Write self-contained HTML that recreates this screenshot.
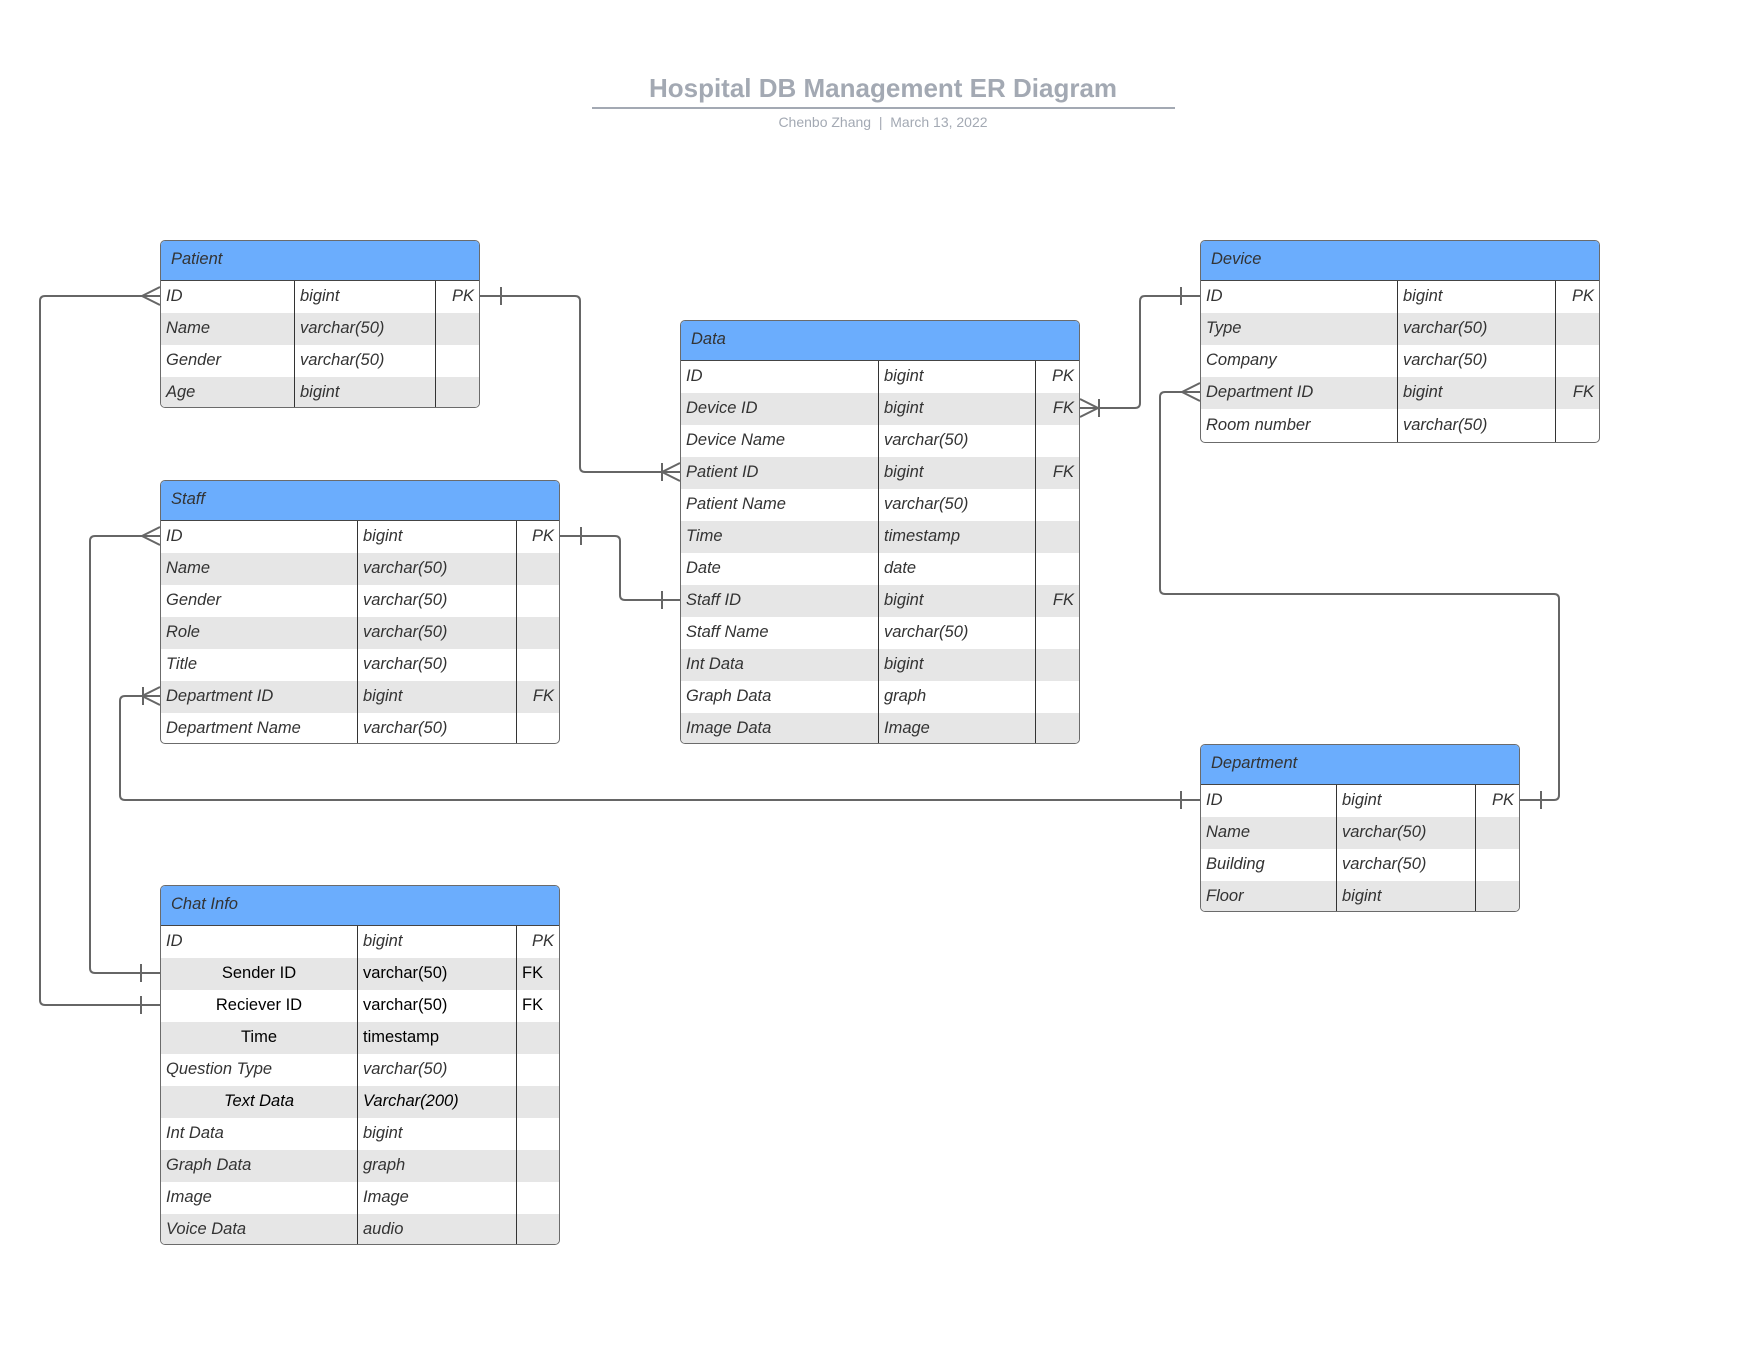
<!DOCTYPE html>
<html><head><meta charset="utf-8"><style>
body{margin:0;width:1759px;height:1359px;background:#fff;position:relative;overflow:hidden;font-family:"Liberation Sans",sans-serif}
.t{position:absolute;border:1.5px solid #6b6b6b;border-radius:5px;overflow:hidden;background:#fff;box-sizing:border-box;font-style:italic;font-size:16.5px;color:#333}
.h{height:40px;background:#6badfd;border-bottom:1.5px solid #444;box-sizing:border-box;padding-left:10px;line-height:36px}
.r{display:flex;height:32px;line-height:30px}
.r:nth-child(even){background:#e6e6e6}
.r div{box-sizing:border-box;padding-left:5px;white-space:nowrap;overflow:hidden}
.r div:not(:last-child){border-right:1.5px solid #333}
.r div:last-child{text-align:right;padding-right:5px}
.n{font-style:normal;color:#000}
.c{text-align:center;padding-left:0!important}
.l{text-align:left!important;padding-left:5px!important}
svg{position:absolute;left:0;top:0}
</style></head><body>
<div style="position:absolute;left:0;width:1766px;top:73px;text-align:center;font-weight:bold;font-size:26px;color:#a3a9b3">Hospital DB Management ER Diagram</div>
<div style="position:absolute;left:592px;width:583px;top:107px;height:2px;background:#a3a9b3"></div>
<div style="position:absolute;left:0;width:1766px;top:114px;text-align:center;font-size:14px;color:#a3a9b3">Chenbo Zhang &nbsp;|&nbsp; March 13, 2022</div>

<svg width="1759" height="1359" fill="none" stroke="#666" stroke-width="2">
<path d="M480 296H575Q580 296 580 301V467Q580 472 585 472H680"/>
<path d="M501 287V305M662 463V481M662 472L680 463M662 472L680 481"/>
<path d="M560 536H615Q620 536 620 541V595Q620 600 625 600H680"/>
<path d="M581 527V545M662 591V609"/>
<path d="M1080 408H1135Q1140 408 1140 403V301Q1140 296 1145 296H1200"/>
<path d="M1080 399L1098 408L1080 417M1099 399V417M1181 287V305"/>
<path d="M1200 392H1165Q1160 392 1160 397V589Q1160 594 1165 594H1554Q1559 594 1559 599V795Q1559 800 1554 800H1520"/>
<path d="M1182 392L1200 383M1182 392L1200 401M1541 791V809"/>
<path d="M160 696H125Q120 696 120 701V795Q120 800 125 800H1200"/>
<path d="M142 696L160 687M142 696L160 705M143 687V705M1181 791V809"/>
<path d="M160 296H45Q40 296 40 301V1000Q40 1005 45 1005H160"/>
<path d="M142 296L160 287M142 296L160 305M141 996V1014"/>
<path d="M160 536H95Q90 536 90 541V968Q90 973 95 973H160"/>
<path d="M142 536L160 527M142 536L160 545M141 964V982"/>
</svg>

<div class="t" style="left:160px;top:240px;width:320px;height:168px"><div class="h">Patient</div>
<div>
<div class="r"><div style="width:134px">ID</div><div style="width:141px">bigint</div><div style="flex:1">PK</div></div>
<div class="r"><div style="width:134px">Name</div><div style="width:141px">varchar(50)</div><div style="flex:1"></div></div>
<div class="r"><div style="width:134px">Gender</div><div style="width:141px">varchar(50)</div><div style="flex:1"></div></div>
<div class="r"><div style="width:134px">Age</div><div style="width:141px">bigint</div><div style="flex:1"></div></div>
</div></div>

<div class="t" style="left:160px;top:480px;width:400px;height:264px"><div class="h">Staff</div>
<div>
<div class="r"><div style="width:197px">ID</div><div style="width:159px">bigint</div><div style="flex:1">PK</div></div>
<div class="r"><div style="width:197px">Name</div><div style="width:159px">varchar(50)</div><div style="flex:1"></div></div>
<div class="r"><div style="width:197px">Gender</div><div style="width:159px">varchar(50)</div><div style="flex:1"></div></div>
<div class="r"><div style="width:197px">Role</div><div style="width:159px">varchar(50)</div><div style="flex:1"></div></div>
<div class="r"><div style="width:197px">Title</div><div style="width:159px">varchar(50)</div><div style="flex:1"></div></div>
<div class="r"><div style="width:197px">Department ID</div><div style="width:159px">bigint</div><div style="flex:1">FK</div></div>
<div class="r"><div style="width:197px">Department Name</div><div style="width:159px">varchar(50)</div><div style="flex:1"></div></div>
</div></div>

<div class="t" style="left:160px;top:885px;width:400px;height:360px"><div class="h">Chat Info</div>
<div>
<div class="r"><div style="width:197px">ID</div><div style="width:159px">bigint</div><div style="flex:1">PK</div></div>
<div class="r"><div class="n c" style="width:197px">Sender ID</div><div class="n" style="width:159px">varchar(50)</div><div class="n l" style="flex:1">FK</div></div>
<div class="r"><div class="n c" style="width:197px">Reciever ID</div><div class="n" style="width:159px">varchar(50)</div><div class="n l" style="flex:1">FK</div></div>
<div class="r"><div class="n c" style="width:197px">Time</div><div class="n" style="width:159px">timestamp</div><div style="flex:1"></div></div>
<div class="r"><div style="width:197px">Question Type</div><div style="width:159px">varchar(50)</div><div style="flex:1"></div></div>
<div class="r"><div class="c" style="width:197px;color:#000">Text Data</div><div style="width:159px;color:#000">Varchar(200)</div><div style="flex:1"></div></div>
<div class="r"><div style="width:197px">Int Data</div><div style="width:159px">bigint</div><div style="flex:1"></div></div>
<div class="r"><div style="width:197px">Graph Data</div><div style="width:159px">graph</div><div style="flex:1"></div></div>
<div class="r"><div style="width:197px">Image</div><div style="width:159px">Image</div><div style="flex:1"></div></div>
<div class="r"><div style="width:197px">Voice Data</div><div style="width:159px">audio</div><div style="flex:1"></div></div>
</div></div>

<div class="t" style="left:680px;top:320px;width:400px;height:424px"><div class="h">Data</div>
<div>
<div class="r"><div style="width:198px">ID</div><div style="width:157px">bigint</div><div style="flex:1">PK</div></div>
<div class="r"><div style="width:198px">Device ID</div><div style="width:157px">bigint</div><div style="flex:1">FK</div></div>
<div class="r"><div style="width:198px">Device Name</div><div style="width:157px">varchar(50)</div><div style="flex:1"></div></div>
<div class="r"><div style="width:198px">Patient ID</div><div style="width:157px">bigint</div><div style="flex:1">FK</div></div>
<div class="r"><div style="width:198px">Patient Name</div><div style="width:157px">varchar(50)</div><div style="flex:1"></div></div>
<div class="r"><div style="width:198px">Time</div><div style="width:157px">timestamp</div><div style="flex:1"></div></div>
<div class="r"><div style="width:198px">Date</div><div style="width:157px">date</div><div style="flex:1"></div></div>
<div class="r"><div style="width:198px">Staff ID</div><div style="width:157px">bigint</div><div style="flex:1">FK</div></div>
<div class="r"><div style="width:198px">Staff Name</div><div style="width:157px">varchar(50)</div><div style="flex:1"></div></div>
<div class="r"><div style="width:198px">Int Data</div><div style="width:157px">bigint</div><div style="flex:1"></div></div>
<div class="r"><div style="width:198px">Graph Data</div><div style="width:157px">graph</div><div style="flex:1"></div></div>
<div class="r"><div style="width:198px">Image Data</div><div style="width:157px">Image</div><div style="flex:1"></div></div>
</div></div>

<div class="t" style="left:1200px;top:240px;width:400px;height:203px"><div class="h">Device</div>
<div>
<div class="r"><div style="width:197px">ID</div><div style="width:158px">bigint</div><div style="flex:1">PK</div></div>
<div class="r"><div style="width:197px">Type</div><div style="width:158px">varchar(50)</div><div style="flex:1"></div></div>
<div class="r"><div style="width:197px">Company</div><div style="width:158px">varchar(50)</div><div style="flex:1"></div></div>
<div class="r"><div style="width:197px">Department ID</div><div style="width:158px">bigint</div><div style="flex:1">FK</div></div>
<div class="r" style="height:35px;line-height:33px"><div style="width:197px">Room number</div><div style="width:158px">varchar(50)</div><div style="flex:1"></div></div>
</div></div>

<div class="t" style="left:1200px;top:744px;width:320px;height:168px"><div class="h">Department</div>
<div>
<div class="r"><div style="width:136px">ID</div><div style="width:139px">bigint</div><div style="flex:1">PK</div></div>
<div class="r"><div style="width:136px">Name</div><div style="width:139px">varchar(50)</div><div style="flex:1"></div></div>
<div class="r"><div style="width:136px">Building</div><div style="width:139px">varchar(50)</div><div style="flex:1"></div></div>
<div class="r"><div style="width:136px">Floor</div><div style="width:139px">bigint</div><div style="flex:1"></div></div>
</div></div>
</body></html>
